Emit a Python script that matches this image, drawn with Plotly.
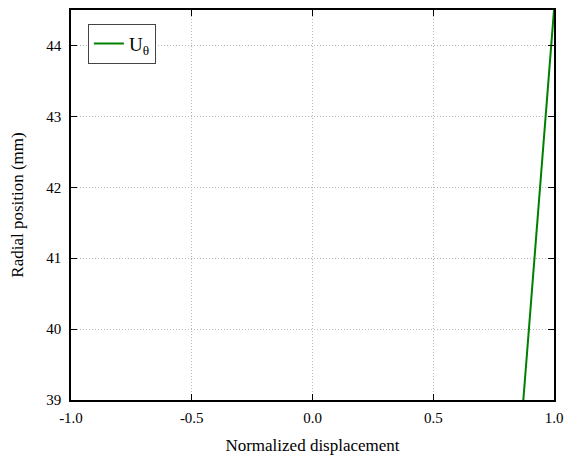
import plotly.graph_objects as go

disp = [0.873, 1.0]
radial = [39.0, 44.5]
x_ticks = [-1.0, -0.5, 0.0, 0.5, 1.0]
x_labels = ["-1.0", "-0.5", "0.0", "0.5", "1.0"]
y_ticks = [39, 40, 41, 42, 43, 44]

fig = go.Figure()
fig.add_trace(go.Scatter(x=disp, y=radial, mode="lines", name="U<sub>θ</sub>",
                         line=dict(color="#008000", width=2)))

font = "Liberation Serif, Times New Roman, serif"
axis_common = dict(showline=True, linecolor="black", linewidth=1.5, mirror="allticks",
                   ticks="inside", ticklen=6, tickcolor="black", tickwidth=1,
                   showgrid=True, gridcolor="#b8b8b8", griddash="1px,2px", gridwidth=1,
                   zeroline=False, tickfont=dict(family=font, size=15, color="black"))

fig.update_layout(
    width=571, height=463,
    margin=dict(l=71, r=9, t=8, b=63),
    paper_bgcolor="white", plot_bgcolor="white",
    font=dict(family=font, size=15, color="black"),
    xaxis=dict(range=[-1, 1], tickvals=x_ticks, ticktext=x_labels, ticklabelstandoff=3,
               title=dict(text="Normalized displacement", font=dict(size=17), standoff=14),
               **axis_common),
    yaxis=dict(range=[39, 44.5], tickvals=y_ticks, ticklabelstandoff=5,
               title=dict(text="Radial position (mm)", font=dict(size=17), standoff=18),
               **axis_common),
    showlegend=True,
    legend=dict(x=0.035, y=0.965, xanchor="left", yanchor="top",
                bordercolor="#444444", borderwidth=1, bgcolor="white",
                font=dict(family=font, size=19)),
)

fig.write_html("out.html")
